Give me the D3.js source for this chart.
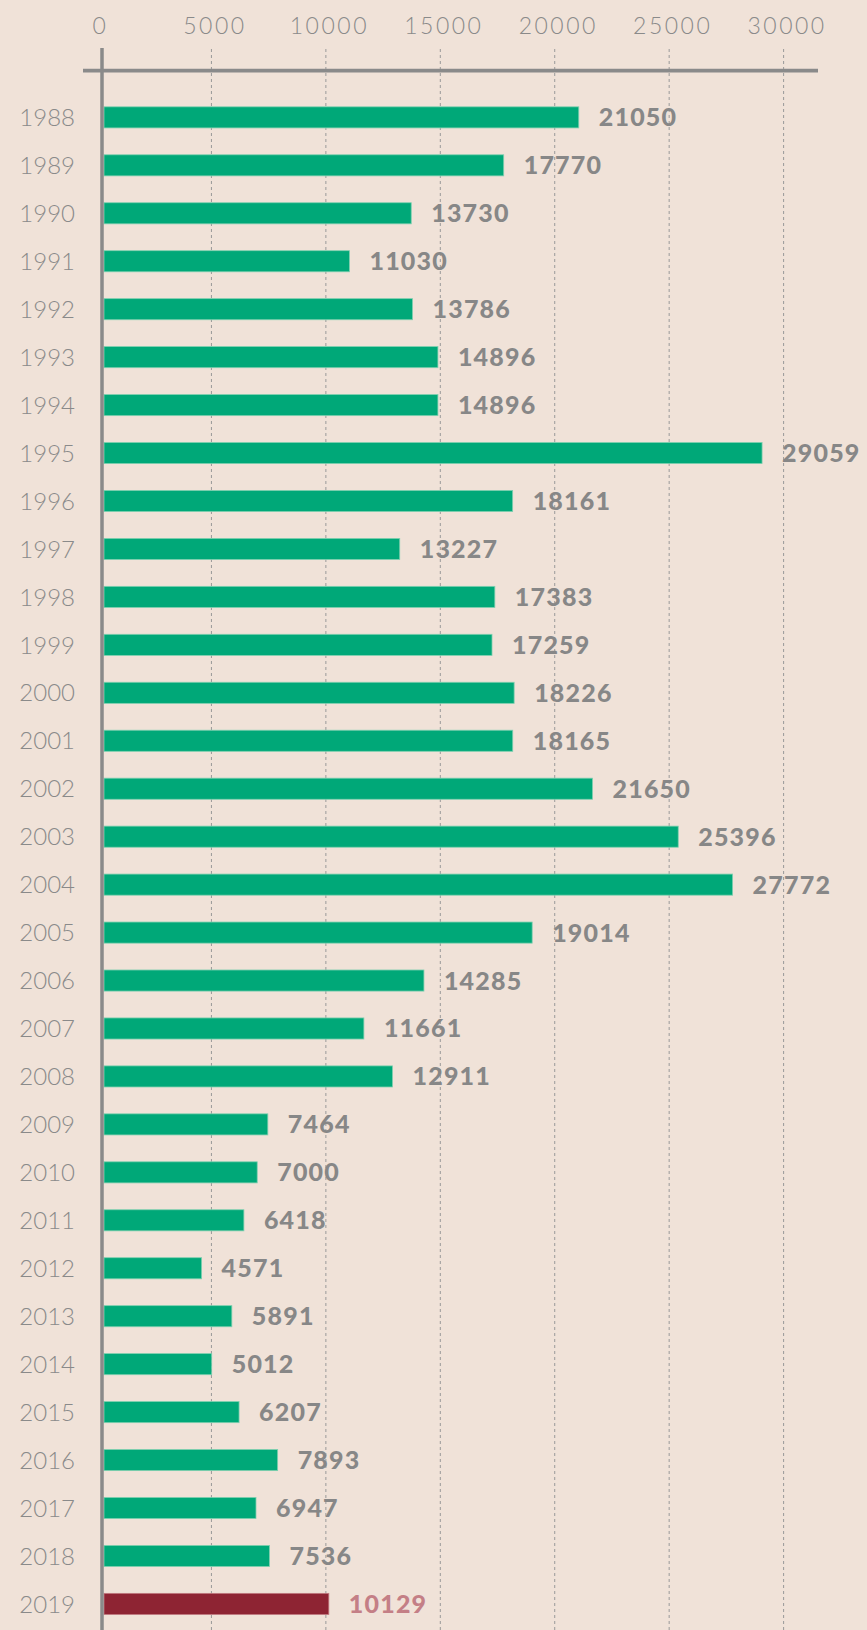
<!DOCTYPE html>
<html>
<head>
<meta charset="utf-8">
<script src="https://cdn.jsdelivr.net/npm/d3@7"></script>
<style>
  html, body { margin: 0; padding: 0; background: #f0e2d8; }
  svg { display: block; }
  .tick line { display: none; }
  .domain { display: none; }
</style>
</head>
<body>
<div id="chart"></div>
<script>
var years = ['1988','1989','1990','1991','1992','1993','1994','1995','1996','1997',
  '1998','1999','2000','2001','2002','2003','2004','2005','2006','2007','2008',
  '2009','2010','2011','2012','2013','2014','2015','2016','2017','2018','2019'];

var values = [21050, 17770, 13730, 11030, 13786, 14896, 14896, 29059, 18161, 13227,
  17383, 17259, 18226, 18165, 21650, 25396, 27772, 19014, 14285, 11661, 12911,
  7464, 7000, 6418, 4571, 5891, 5012, 6207, 7893, 6947, 7536, 10129];

var xTicks = [0, 5000, 10000, 15000, 20000, 25000, 30000];

var highlightYear = '2019';

var width = 867, height = 1630;
var axisX = 102;

var data = years.map(function(y, i) { return { year: y, value: values[i] }; });

var svg = d3.select('#chart').append('svg')
  .attr('width', width)
  .attr('height', height)
  .style('background', '#f0e2d8');

var x = d3.scaleLinear().domain([0, 30000]).range([97, 783.6]);
var y = d3.scaleBand().domain(years).range([93.4, 1627.9])
  .paddingInner(0.56).paddingOuter(0.28);

// dashed gridlines
svg.append('g').selectAll('line')
  .data(xTicks.slice(1))
  .join('line')
  .attr('x1', function(d) { return x(d); })
  .attr('x2', function(d) { return x(d); })
  .attr('y1', 49)
  .attr('y2', height)
  .attr('stroke', '#999999')
  .attr('stroke-width', 1)
  .attr('stroke-dasharray', '3,3');

// top tick labels
var topAxis = svg.append('g')
  .attr('transform', 'translate(0,33.5)')
  .call(d3.axisTop(x).tickValues(xTicks).tickSize(0).tickPadding(0).tickFormat(d3.format('d')));
topAxis.selectAll('text')
  .attr('font-family', 'Lato')
  .attr('font-weight', 300)
  .attr('font-size', 23)
  .attr('letter-spacing', 2.5)
  .attr('dx', 3)
  .attr('fill', '#8a8a8a');

// bars
svg.append('g').selectAll('rect')
  .data(data)
  .join('rect')
  .attr('x', axisX + 2)
  .attr('y', function(d) { return y(d.year); })
  .attr('width', function(d) { return x(d.value) - axisX - 2; })
  .attr('height', y.bandwidth())
  .attr('fill', function(d) { return d.year === highlightYear ? '#8e2433' : '#00a878'; })
  .attr('stroke', function(d) { return d.year === highlightYear ? '#c0787f' : '#7fd0b0'; })
  .attr('stroke-width', 0.8);

// value labels
svg.append('g').selectAll('text')
  .data(data)
  .join('text')
  .attr('x', function(d) { return x(d.value) + 20; })
  .attr('y', function(d) { return y(d.year) + y.bandwidth() / 2; })
  .attr('dy', '0.36em')
  .attr('font-family', 'Lato')
  .attr('font-weight', 900)
  .attr('font-size', 25)
  .attr('letter-spacing', 1.2)
  .attr('fill', function(d) { return d.year === highlightYear ? '#c47f86' : '#878787'; })
  .text(function(d) { return d.value; });

// year labels
var leftAxis = svg.append('g')
  .attr('transform', 'translate(' + axisX + ',0)')
  .call(d3.axisLeft(y).tickSize(0).tickPadding(27));
leftAxis.selectAll('text')
  .attr('font-family', 'Lato')
  .attr('font-weight', 300)
  .attr('font-size', 24)
  .attr('dy', '0.36em')
  .attr('fill', '#8a8a8a');

// axis lines
svg.append('line')
  .attr('x1', 83).attr('x2', 818)
  .attr('y1', 70.7).attr('y2', 70.7)
  .attr('stroke', '#8a8a8a')
  .attr('stroke-width', 3.7);

svg.append('line')
  .attr('x1', axisX).attr('x2', axisX)
  .attr('y1', 48).attr('y2', height)
  .attr('stroke', '#8a8a8a')
  .attr('stroke-width', 3.5);
</script>
</body>
</html>
